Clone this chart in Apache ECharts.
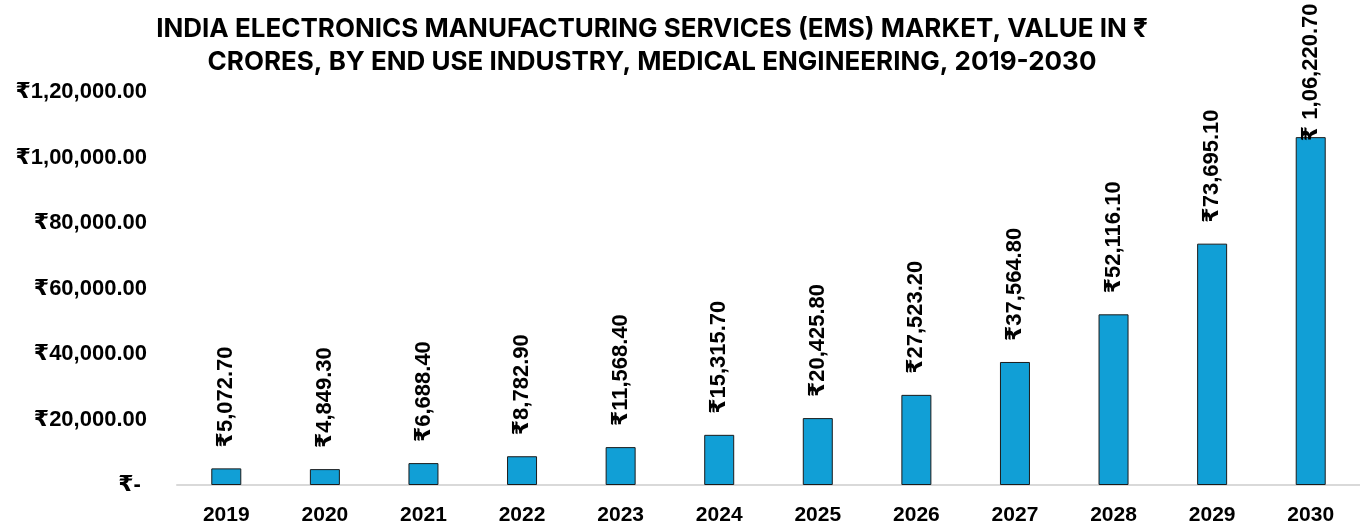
<!DOCTYPE html>
<html>
<head>
<meta charset="utf-8">
<script src="https://cdn.jsdelivr.net/npm/echarts@6/dist/echarts.min.js"></script>
<style>
  html, body { margin: 0; padding: 0; background: #ffffff; }
  #chart { width: 1360px; height: 526px; }
</style>
</head>
<body>
<div id="chart"></div>
<script>
// Market value by year, ₹ crores
const years = ['2019', '2020', '2021', '2022', '2023', '2024', '2025', '2026', '2027', '2028', '2029', '2030'];
const values = [5072.7, 4849.3, 6688.4, 8782.9, 11568.4, 15315.7, 20425.8, 27523.2, 37564.8, 52116.1, 73695.1, 106220.7];
const yMin = 0;
const yMax = 120000;
const yStep = 20000;

const titleText = 'INDIA ELECTRONICS MANUFACTURING SERVICES (EMS) MARKET, VALUE IN ₹\nCRORES, BY END USE INDUSTRY, MEDICAL ENGINEERING, 2019-2030';

// Indian digit grouping: 1,06,220.70
function inr(v) {
  const parts = v.toFixed(2).split('.');
  const intPart = parts[0];
  let last3 = intPart.slice(-3);
  let rest = intPart.slice(0, -3);
  if (rest) last3 = ',' + last3;
  rest = rest.replace(/\B(?=(\d{2})+(?!\d))/g, ',');
  return rest + last3 + '.' + parts[1];
}

const labelFont = '"Liberation Sans", Arial, "DejaVu Sans", sans-serif';

const barData = values.map(function (v, i) {
  const item = { value: v };
  if (i === values.length - 1) {
    // tallest bar: label sits tight on the bar and runs off the top
    item.label = { distance: -4, formatter: function (p) { return '₹ ' + inr(p.value); } };
  }
  return item;
});

const chart = echarts.init(document.getElementById('chart'), null, { renderer: 'canvas', width: 1360, height: 526 });
chart.setOption({
  animation: false,
  backgroundColor: '#ffffff',
  title: {
    text: titleText,
    left: 647,
    top: 8,
    textAlign: 'center',
    textStyle: {
      fontFamily: 'Inter, "Noto Sans", sans-serif',
      fontWeight: 'bold',
      fontSize: 26,
      lineHeight: 33,
      color: '#000000'
    }
  },
  grid: { left: 177, top: 92, width: 1193, height: 395, containLabel: false },
  xAxis: {
    type: 'category',
    data: years,
    axisLine: { lineStyle: { color: '#d9d9d9', width: 2 } },
    axisTick: { show: false },
    axisLabel: {
      margin: 20,
      fontFamily: labelFont,
      fontWeight: 'bold',
      fontSize: 21,
      color: '#000000'
    }
  },
  yAxis: {
    type: 'value',
    min: yMin,
    max: yMax,
    interval: yStep,
    axisLine: { show: false },
    axisTick: { show: false },
    splitLine: { show: false },
    axisLabel: {
      margin: 30,
      fontFamily: labelFont,
      fontWeight: 'bold',
      fontSize: 22,
      color: '#000000',
      formatter: function (v) { return v === 0 ? '₹- ' : '₹' + inr(v); }
    }
  },
  series: [{
    type: 'bar',
    data: barData,
    barWidth: 30,
    itemStyle: { color: '#119fd6', borderColor: '#1b1b1b', borderWidth: 1 },
    label: {
      show: true,
      position: 'top',
      distance: 21,
      rotate: 90,
      align: 'left',
      verticalAlign: 'middle',
      fontFamily: labelFont,
      fontWeight: 'bold',
      fontSize: 22,
      color: '#000000',
      formatter: function (p) { return '₹' + inr(p.value); }
    }
  }]
});
</script>
</body>
</html>
